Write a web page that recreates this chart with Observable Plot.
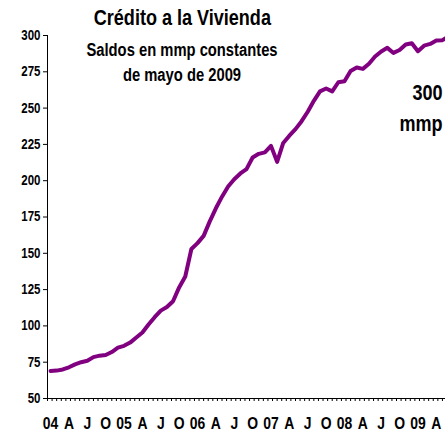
<!DOCTYPE html>
<html><head><meta charset="utf-8">
<script src="https://cdn.jsdelivr.net/npm/d3@7"></script>
<script src="https://cdn.jsdelivr.net/npm/@observablehq/plot@0.6"></script>
<style>
html,body{margin:0;padding:0;background:#fff;}
#wrap{position:relative;width:445px;height:438px;overflow:hidden;font-family:"Liberation Sans Narrow","Arial Narrow","Liberation Sans",Arial,sans-serif;font-weight:bold;color:#000;}
.ov{position:absolute;white-space:nowrap;}
</style></head>
<body>
<div id="wrap">
  <div id="chart"></div>
  <div class="ov" style="left:62px;width:240px;text-align:center;top:7px;font-size:22px;line-height:22px;transform:scaleX(0.82);transform-origin:122px 0;">Crédito a la Vivienda</div>
  <div class="ov" style="left:62px;width:240px;text-align:center;top:38px;font-size:18px;line-height:25px;transform:scaleX(0.82);transform-origin:120px 0;">Saldos en mmp constantes<br>de mayo de 2009</div>
  <div class="ov" style="right:2px;text-align:right;top:77px;font-size:22px;line-height:31px;transform:scaleX(0.82);transform-origin:100% 0;">300<br>mmp</div>
</div>
<script>
// Monthly balances, Jan 2004 (index 0) onward, mmp constantes
const values = [69,69.2,70,71.5,73.5,75,76,78.5,79.5,80,82,85,
  86.3,88.5,92,95.5,101,106,110.5,113,117,126.5,134,153,
  157,162,172,181,189,196,201,205,208,216,218.5,219.5,
  224,213,226,231,235.5,241,247.5,255,261.5,263.5,261.5,267.8,
  268.5,275.5,278,277,280.5,285.5,289,291.5,288,290,293.8,294.7,
  289.2,293,294.2,296.6,296.8,299.5];
const tickLabels = ["04","A","J","O","05","A","J","O","06","A","J","O","07","A","J","O","08","A","J","O","09","A"];
const yTicks = [50,75,100,125,150,175,200,225,250,275,300];

const data = values.map((v, i) => ({i, v}));
const labelPos = tickLabels.map((_, k) => k * 3);
const minorTicks = d3.range(-0.5, 66, 0.75);
const font = '"Liberation Sans Narrow","Arial Narrow","Liberation Sans",Arial,sans-serif';

const chart = Plot.plot({
  width: 445, height: 438,
  marginTop: 35, marginBottom: 40, marginLeft: 47, marginRight: 0,
  style: {fontFamily: font, fontWeight: "bold", color: "#000", background: "#fff"},
  x: {domain: [-0.5, 64.5]},
  y: {domain: [50, 300]},
  marks: [
    Plot.axisY({ticks: yTicks, tickSize: 4, tickPadding: 3, fontSize: 14, label: null, stroke: "#000"}),
    Plot.axisX({ticks: minorTicks, tickSize: 3, tickFormat: () => "", label: null, stroke: "#000"}),
    Plot.axisX({ticks: labelPos, tickSize: 0, tickPadding: 18, fontSize: 17, label: null,
      tickFormat: (d) => tickLabels[Math.round(d / 3)]}),
    Plot.ruleX([-0.5], {stroke: "#000"}),
    Plot.ruleY([50], {stroke: "#000"}),
    Plot.line(data, {x: "i", y: "v", stroke: "#800080", strokeWidth: 4, clip: true})
  ]
});
// emulate a narrow (condensed) face: squeeze each label horizontally about its anchor
chart.querySelectorAll("text").forEach((t) => {
  const tr = t.getAttribute("transform") || "";
  const ax = +(t.getAttribute("x") || 0);
  t.setAttribute("transform", `${tr} translate(${ax},0) scale(0.82,1) translate(${-ax},0)`);
});
document.getElementById("chart").appendChild(chart);
</script>
</body></html>
